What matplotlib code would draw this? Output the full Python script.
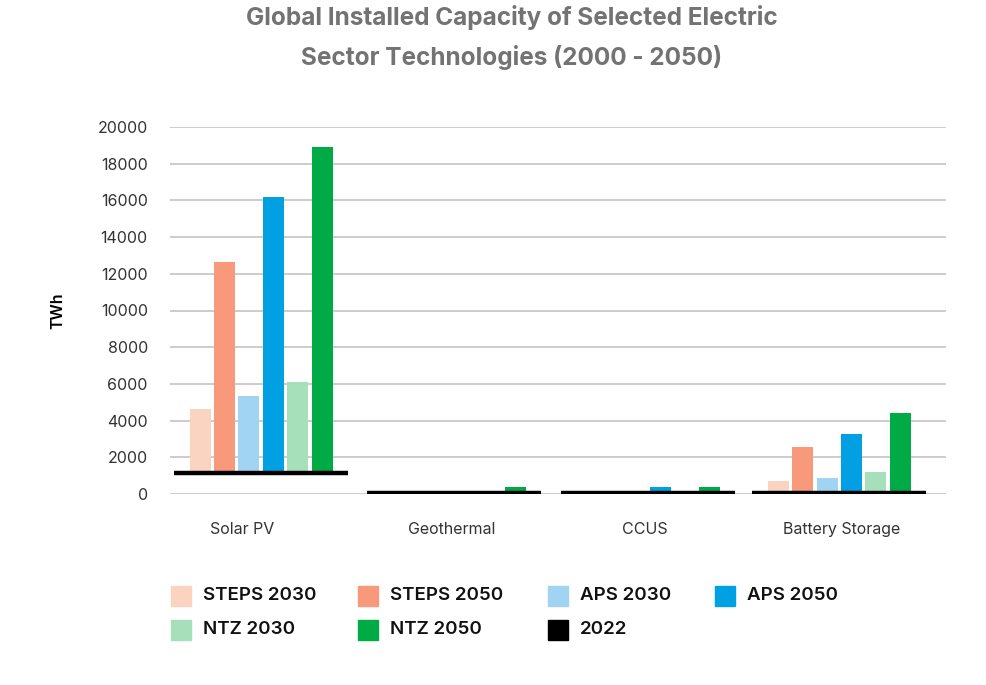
import matplotlib
matplotlib.use("Agg")
import matplotlib.pyplot as plt
import numpy as np
from matplotlib.patches import Rectangle

plt.rcParams['font.family'] = ['Inter', 'DejaVu Sans']

categories = ["Solar PV", "Geothermal", "CCUS", "Battery Storage"]
series_names = ["STEPS 2030", "STEPS 2050", "APS 2030", "APS 2050", "NTZ 2030", "NTZ 2050"]
steps_2030 = [4630, 0, 0, 700]
steps_2050 = [12640, 0, 0, 2560]
aps_2030 = [5340, 0, 0, 870]
aps_2050 = [16180, 0, 380, 3270]
ntz_2030 = [6100, 0, 0, 1200]
ntz_2050 = [18900, 380, 380, 4410]
base_2022 = [1140, 60, 60, 60]

colors = ["#FBD3C1", "#F7997A", "#A0D4F2", "#00A0E3", "#A5E0BA", "#00AA44"]
series = [steps_2030, steps_2050, aps_2030, aps_2050, ntz_2030, ntz_2050]

fig = plt.figure(figsize=(9.87, 6.85), dpi=100)
ax = fig.add_axes([170/987, 1-494/685, 776/987, 367/685])

x = np.arange(len(categories))
group_off = np.array([-0.03, -0.035, -0.035, -0.05])
step = 0.126
width = 0.108
base = np.array(base_2022, dtype=float)
for i, (vals, c) in enumerate(zip(series, colors)):
    v = np.array(vals, dtype=float)
    h = np.clip(v - base, 0, None)
    ax.bar(x + group_off + (i - 2.5) * step, h, width, bottom=base, color=c, zorder=3)

ax.hlines(base, x + group_off - 0.449, x + group_off + 0.449, color="black", linewidth=3.2, zorder=4)

ax.set_xlim(-0.5, 3.5)
ax.set_ylim(0, 20000)
ax.set_yticks(np.arange(0, 20001, 2000))
ax.yaxis.grid(True, color="#c4c4c4", linewidth=1.2, zorder=0)
ax.set_axisbelow(True)
for s in ax.spines.values():
    s.set_visible(False)
ax.tick_params(axis="both", length=0, labelsize=11.5, labelcolor="#333333")
ax.tick_params(axis="y", pad=16)
ax.tick_params(axis="x", pad=20)
label_off = np.array([-0.13, -0.05, -0.05, -0.04])
ax.set_xticks(x + label_off)
ax.set_xticklabels(categories)
ax.set_ylabel("TWh", fontsize=11.5, fontweight="semibold", color="black", labelpad=23)

fig.text(512/987, 1-17/685, "Global Installed Capacity of Selected Electric",
         ha="center", va="center", fontsize=17.5, fontweight="bold", color="#737373")
fig.text(512/987, 1-57/685, "Sector Technologies (2000 - 2050)",
         ha="center", va="center", fontsize=17.5, fontweight="bold", color="#737373")

# legend
leg_names = series_names + ["2022"]
leg_colors = colors + ["#000000"]
col_x = [171, 358, 548, 715]
row_y = [596, 630]
for k, (n, c) in enumerate(zip(leg_names, leg_colors)):
    r, cidx = divmod(k, 4)
    px, py = col_x[cidx], row_y[r]
    fig.patches.append(Rectangle((px/987, 1-(py+10)/685), 20/987, 20/685,
                                 transform=fig.transFigure, color=c))
    fig.text((px+32)/987, 1-py/685, n, ha="left", va="center", fontsize=13.5,
             fontweight="semibold", color="#111111")

fig.savefig("out.png", dpi=100)
